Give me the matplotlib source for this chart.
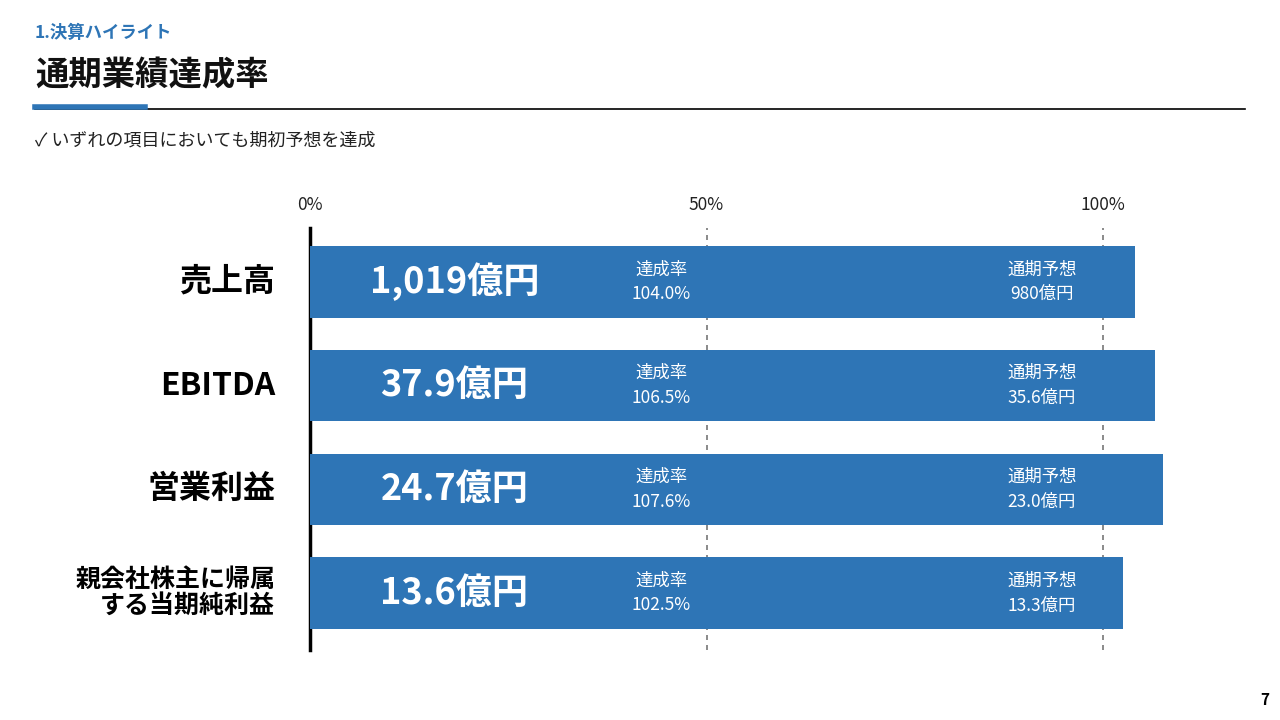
import matplotlib
matplotlib.use("Agg")
import matplotlib.pyplot as plt

plt.rcParams["font.family"] = "Noto Sans CJK JP"

categories = ["売上高", "EBITDA", "営業利益", "親会社株主に帰属\nする当期純利益"]
actual_labels = ["1,019億円", "37.9億円", "24.7億円", "13.6億円"]
rates = [104.0, 106.5, 107.6, 102.5]
forecast_labels = ["980億円", "35.6億円", "23.0億円", "13.3億円"]
tick_vals = [0, 50, 100]
tick_labels = ["0%", "50%", "100%"]

BLUE = "#2E75B6"
W, H = 1280, 720
fig = plt.figure(figsize=(12.8, 7.2), dpi=100)

# header
fig.text(35/W, 1-33/H, "1.決算ハイライト", color=BLUE, fontsize=12.5, fontweight="bold", va="center")
fig.text(35/W, 1-76/H, "通期業績達成率", color="#111111", fontsize=24, fontweight="bold", va="center")
fig.add_artist(plt.Line2D([35/W, 1245/W], [1-109/H, 1-109/H], color="black", lw=1.2))
fig.add_artist(plt.Line2D([35/W, 145/W], [1-107/H, 1-107/H], color=BLUE, lw=4))
fig.text(35/W, 1-141/H, "✓ いずれの項目においても期初予想を達成", color="#222222", fontsize=13, va="center")
fig.text(1265/W, 1-700/H, "7", fontsize=11, fontweight="bold", ha="center", va="center")

# 0% at x=310, 100% at x=1103
ax = fig.add_axes([310/W, 1-650/H, 793/W, 422/H])
ax.set_xlim(0, 100)
ax.set_ylim(3.55, -0.52)
for s in ax.spines.values():
    s.set_visible(False)
ax.set_yticks([])
ax.set_xticks([])
ax.axvline(0, color="black", lw=2.5, clip_on=False)
for t in tick_vals[1:]:
    ax.axvline(t, color="#777777", lw=1.2, ls=(0, (3, 3)), zorder=0, clip_on=False)
for t, l in zip(tick_vals, tick_labels):
    ax.text(t, -0.74, l, ha="center", va="center", fontsize=12.5, color="#222222", clip_on=False)

for i, (c, a, r, f) in enumerate(zip(categories, actual_labels, rates, forecast_labels)):
    ax.barh(i, r, height=0.69, color=BLUE, clip_on=False, zorder=2)
    two = "\n" in c
    ax.text(-4.4, i, c, ha="right", va="center", fontsize=18 if two else 23,
            fontweight="bold", clip_on=False, linespacing=1.1)
    ax.text(18.2, i, a, ha="center", va="center", fontsize=26, fontweight="bold", color="white", zorder=3)
    ax.text(44.3, i, f"達成率\n{r:.1f}%", ha="center", va="center", fontsize=12.5, color="white",
            zorder=3, linespacing=1.5)
    ax.text(92.3, i, f"通期予想\n{f}", ha="center", va="center", fontsize=12.5, color="white",
            zorder=3, linespacing=1.5)

fig.savefig("out.png", dpi=100, facecolor="white")
